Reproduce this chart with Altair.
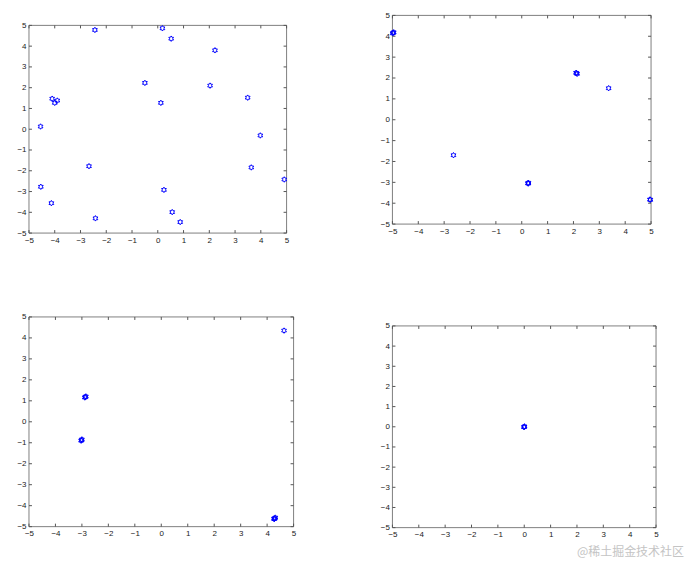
import altair as alt
import pandas as pd

ticks = [-5, -4, -3, -2, -1, 0, 1, 2, 3, 4, 5]

# panel 1 (top left)
p1_x = [-2.44, 0.18, 0.52, 2.22, -0.50, 2.03, 0.12, 3.49, -4.10, -4.00, -3.90,
        -4.55, 3.98, -2.67, 3.63, 4.91, -4.54, 0.24, -4.13, 0.56, -2.42, 0.87]
p1_y = [4.78, 4.86, 4.36, 3.80, 2.23, 2.10, 1.27, 1.52, 1.47, 1.27, 1.38,
        0.13, -0.30, -1.78, -1.84, -2.42, -2.77, -2.92, -3.56, -3.99, -4.29, -4.47]

# panel 2 (top right) - overlapping markers repeated
p2_x = [-4.97, -4.95, -4.99, 2.12, 2.14, 2.10, 3.36, -2.64, 0.24, 0.26, 0.25, 4.96, 4.97]
p2_y = [4.17, 4.19, 4.14, 2.23, 2.20, 2.25, 1.51, -1.70, -3.04, -3.02, -3.06, -3.82, -3.84]

# panel 3 (bottom left)
p3_x = [4.64, -2.87, -2.85, -2.89, -3.01, -3.00, -3.03, 4.26, 4.29, 4.31, 4.27]
p3_y = [4.35, 1.18, 1.21, 1.16, -0.88, -0.84, -0.90, -4.62, -4.60, -4.57, -4.64]

# panel 4 (bottom right)
p4_x = [0.0, 0.01, -0.01]
p4_y = [0.0, 0.02, -0.02]

watermark = "@稀土掘金技术社区"

HEX = ("M0,-1L0.289,-0.5L0.866,-0.5L0.577,0L0.866,0.5L0.289,0.5L0,1"
       "L-0.289,0.5L-0.866,0.5L-0.577,0L-0.866,-0.5L-0.289,-0.5Z")
FRAME = "#808080"
TICKC = "#555555"
TL = 3
FONT = "Liberation Sans"


def panel(xs, ys, w, h, off=0, extra=None):
    df = pd.DataFrame({"x": xs, "y": ys})
    tdf = pd.DataFrame({"t": ticks})
    H = h + off
    xsc = alt.Scale(domain=[-5, 5], nice=False, zero=False)
    ysc = alt.Scale(domain=[-5, 5], nice=False, zero=False, range=[H, off])
    ax = dict(values=ticks, title=None, ticks=False, domain=False, grid=False,
              labelFontSize=8, labelPadding=3, labelColor="#1a1a1a", labelFont=FONT,
              labelFlush=False, labelOverlap=False)
    xa = alt.Axis(**ax)
    ya = alt.Axis(**ax)
    frame = alt.Chart(pd.DataFrame({"t": [0]})).mark_rect(
        fillOpacity=0, stroke=FRAME, strokeWidth=1).encode(
        x=alt.value(0), x2=alt.value(w), y=alt.value(off), y2=alt.value(H))
    pts = alt.Chart(df).mark_point(shape=HEX, filled=False, color="#0000ff",
                                   size=30, strokeWidth=1, opacity=1).encode(
        x=alt.X("x:Q", scale=xsc, axis=xa),
        y=alt.Y("y:Q", scale=ysc, axis=ya),
    )
    base = alt.Chart(tdf).mark_rule(color=TICKC, strokeWidth=1)
    left = base.encode(y=alt.Y("t:Q", scale=ysc, axis=ya), x=alt.value(0), x2=alt.value(TL))
    right = base.encode(y=alt.Y("t:Q", scale=ysc, axis=ya), x=alt.value(w - TL), x2=alt.value(w))
    bottom = base.encode(x=alt.X("t:Q", scale=xsc, axis=xa), y=alt.value(H), y2=alt.value(H - TL))
    top = base.encode(x=alt.X("t:Q", scale=xsc, axis=xa), y=alt.value(off), y2=alt.value(off + TL))
    layers = [frame, pts, left, right, bottom, top]
    if extra is not None:
        layers.append(extra)
    return alt.layer(*layers).properties(
        width=w, height=H, view=alt.ViewBackground(stroke="transparent"))


wm = alt.Chart(pd.DataFrame({"s": [watermark]})).mark_text(
    align="right", baseline="alphabetic", font="Noto Sans CJK SC", fontSize=12,
    color="#c4c4c4").encode(text="s:N", x=alt.value(292), y=alt.value(230))

c1 = panel(p1_x, p1_y, 258, 208, off=10)
c2 = panel(p2_x, p2_y, 259, 209)
c3 = panel(p3_x, p3_y, 265, 210)
c4 = panel(p4_x, p4_y, 264, 202, extra=wm)

left_col = alt.vconcat(c1, c3, spacing=84, bounds="flush")
right_col = alt.vconcat(c2, c4, spacing=102, bounds="flush")

chart = alt.concat(left_col, right_col, columns=2, spacing=83, align="none").properties(
    padding={"left": 8, "top": 2, "right": 0, "bottom": 0}
)

chart.save("out.html", embed_options={"renderer": "svg", "actions": False})
